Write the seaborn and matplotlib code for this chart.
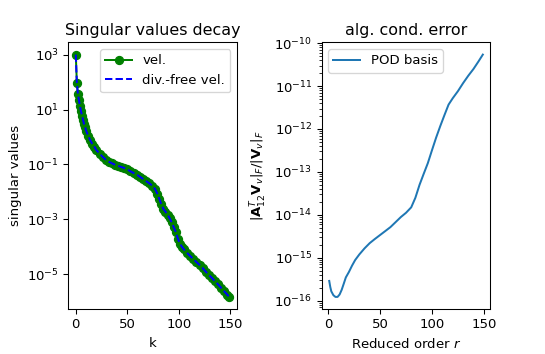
import numpy as np
import matplotlib
matplotlib.use('Agg')
import matplotlib.pyplot as plt
import seaborn as sns

# Singular values of the velocity snapshots
k_vel = [0, 1, 2, 3, 4, 5, 6, 7, 8, 9, 10, 12, 14, 16, 18, 20, 23, 26, 29, 32,
         35, 38, 41, 44, 47, 50, 53, 56, 59, 62, 65, 68, 71, 74, 77, 79, 81, 83,
         85, 87, 89, 91, 93, 95, 97, 99, 101, 103, 105, 108, 111, 114, 117, 120,
         123, 126, 129, 132, 135, 138, 141, 144, 147, 149]
sv_vel = [1000, 93, 38, 22, 14, 8.9, 6.0, 4.2, 3.0, 2.3, 1.7, 1.1, 0.76, 0.56,
          0.44, 0.33, 0.25, 0.19, 0.15, 0.126, 0.11, 0.098, 0.089, 0.081, 0.074,
          0.066, 0.056, 0.049, 0.043, 0.036, 0.030, 0.025, 0.021, 0.017, 0.0126,
          0.0087, 0.0056, 0.0035, 0.0024, 0.0019, 0.0015, 0.0011, 7.9e-4, 5.2e-4,
          3.5e-4, 2.0e-4, 1.3e-4, 1.0e-4, 8.0e-5, 6.0e-5, 4.6e-5, 3.6e-5, 2.8e-5,
          2.2e-5, 1.7e-5, 1.26e-5, 9.5e-6, 7.4e-6, 5.6e-6, 4.3e-6, 3.2e-6, 2.4e-6,
          1.8e-6, 1.5e-6]
# divergence-free velocity: indistinguishable from the above in the picture
k_divfree = list(k_vel)
sv_divfree = list(sv_vel)

# algebraic condition error for the POD basis
r_pod = [1, 2, 3, 5, 7, 9, 11, 13, 15, 17, 20, 23, 26, 30, 35, 40, 45, 50, 55,
         60, 65, 70, 75, 80, 84, 88, 92, 96, 100, 104, 108, 112, 116, 120, 125,
         130, 135, 140, 145, 149]
err_pod = [2.9e-16, 2.1e-16, 1.66e-16, 1.35e-16, 1.23e-16, 1.23e-16, 1.4e-16,
           1.8e-16, 2.5e-16, 3.5e-16, 4.7e-16, 6.6e-16, 8.9e-16, 1.2e-15,
           1.66e-15, 2.2e-15, 2.75e-15, 3.4e-15, 4.2e-15, 5.2e-15, 6.8e-15,
           8.9e-15, 1.12e-14, 1.5e-14, 2.5e-14, 5.0e-14, 9.0e-14, 1.6e-13,
           3.2e-13, 6.3e-13, 1.17e-12, 2.1e-12, 3.7e-12, 5.2e-12, 7.6e-12,
           1.17e-11, 1.74e-11, 2.5e-11, 3.8e-11, 5.4e-11]

# the reference looks like a slightly downscaled render, so use a lower dpi
dpi = 95.5
fig, (ax1, ax2) = plt.subplots(1, 2, figsize=(545 / dpi, 354 / dpi), dpi=dpi)
fig.subplots_adjust(left=0.125, right=0.9, top=0.88, bottom=0.127, wspace=0.5)

# left: singular value decay
sns.lineplot(x=k_vel, y=sv_vel, ax=ax1, color='green', marker='o',
             markersize=6, markeredgecolor='green', markeredgewidth=1,
             linewidth=1.5, label='vel.')
sns.lineplot(x=k_divfree, y=sv_divfree, ax=ax1, color='blue', linestyle='--',
             linewidth=1.5, label='div.-free vel.')
ax1.set_yscale('log')
ax1.set_title('Singular values decay')
ax1.set_xlabel('k')
ax1.set_ylabel('singular values')
ax1.set_xticks([0, 50, 100, 150])
ax1.legend(loc='upper right')

# right: algebraic condition error
sns.lineplot(x=r_pod, y=err_pod, ax=ax2, color='#1f77b4', linewidth=1.5,
             label='POD basis')
ax2.set_yscale('log')
ax2.set_title('alg. cond. error')
ax2.set_xlabel('Reduced order $r$')
ax2.set_ylabel(r'$|\mathbf{A}_{12}^T\mathbf{V}_v|_F/|\mathbf{V}_v|_F$')
ax2.set_xticks([0, 50, 100, 150])
ax2.legend(loc='upper left')

fig.savefig('out.png', dpi=dpi)
